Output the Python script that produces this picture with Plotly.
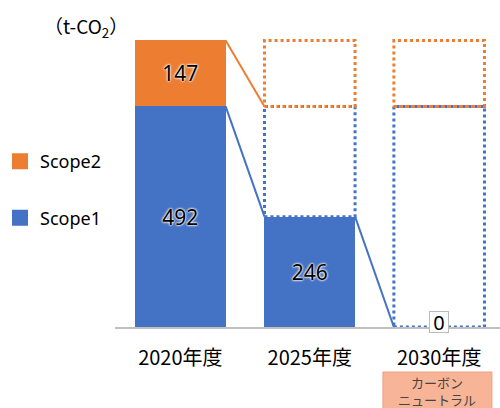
import plotly.graph_objects as go

categories = ["2020年度", "2025年度", "2030年度"]
scope1 = [492, 246, 0]
scope2 = [147, 0, 0]
target_note = "カーボン<br>ニュートラル"
unit_label = "（t-CO<sub>2</sub>）"

BLUE = "#4472C4"
ORANGE = "#ED7D31"
FONT = "Noto Sans CJK JP"
NUMFONT = "Noto Sans"
W = 0.7
h = W / 2
xs = list(range(len(categories)))

base1 = scope1[0]
base_total = scope1[0] + scope2[0]

fig = go.Figure()

shadow = "0 0 2px white, 0 0 2px white, 0 0 3px white, 0 0 1px #666"

fig.add_trace(go.Bar(
    x=xs, y=scope1, name="Scope1", width=W, marker=dict(color=BLUE, line=dict(width=0)),
    text=[str(v) if v > 0 else "" for v in scope1], textposition="inside",
    insidetextanchor="middle",
    textfont=dict(family=NUMFONT, size=21, color="black", shadow=shadow),
    showlegend=False, hoverinfo="skip"))
fig.add_trace(go.Bar(
    x=xs, y=scope2, name="Scope2", width=W, marker=dict(color=ORANGE, line=dict(width=0)),
    text=[str(v) if v > 0 else "" for v in scope2], textposition="inside",
    insidetextanchor="middle",
    textfont=dict(family=NUMFONT, size=21, color="black", shadow=shadow),
    showlegend=False, hoverinfo="skip"))

# legend entries (square swatches)
fig.add_trace(go.Scatter(x=[None], y=[None], mode="markers", name="Scope2", legendrank=1,
                         legendgroup="g2",
                         marker=dict(symbol="square", size=16, color=ORANGE)))
fig.add_trace(go.Scatter(x=[None], y=[None], mode="markers", name="Scope1", legendrank=2,
                         legendgroup="g1",
                         marker=dict(symbol="square", size=16, color=BLUE)))

def rect(xc, y0, y1):
    return ([xc - h, xc + h, xc + h, xc - h, xc - h], [y0, y0, y1, y1, y0])

# ghost (target) boxes
ghosts = [
    (1, scope1[1], base1, BLUE),
    (1, base1, base_total, ORANGE),
    (2, scope1[2], base1, BLUE),
    (2, base1, base_total, ORANGE),
]
for xc, y0, y1, col in ghosts:
    gx, gy = rect(xc, y0, y1)
    fig.add_trace(go.Scatter(x=gx, y=gy, mode="lines", showlegend=False, hoverinfo="skip",
                             line=dict(color=col, width=3, dash="dot")))

# connector lines
fig.add_trace(go.Scatter(x=[0 + h, 1 - h], y=[base_total, base1], mode="lines",
                         showlegend=False, hoverinfo="skip", line=dict(color=ORANGE, width=2)))
fig.add_trace(go.Scatter(x=[0 + h, 1 - h], y=[scope1[0], scope1[1]], mode="lines",
                         showlegend=False, hoverinfo="skip", line=dict(color=BLUE, width=2)))
fig.add_trace(go.Scatter(x=[1 + h, 2 - h], y=[scope1[1], scope1[2]], mode="lines",
                         showlegend=False, hoverinfo="skip", line=dict(color=BLUE, width=2)))

# zero label
fig.add_annotation(x=2, y=scope1[2], text=str(scope1[2]), showarrow=False, yshift=5,
                   xanchor="center", yanchor="middle", width=18, height=20,
                   font=dict(family=NUMFONT, size=20, color="black"),
                   bgcolor="white", bordercolor="#bbbbbb", borderwidth=1, borderpad=0)

# unit label
fig.add_annotation(xref="paper", yref="paper", x=(38 - 112) / 388, y=(327 - 27) / 317,
                   xanchor="left", yanchor="middle", text=unit_label,
                   showarrow=False, font=dict(family=FONT, size=19, color="black"))

# carbon neutral box
fig.add_shape(type="rect", xref="paper", yref="paper", x0=0.696, x1=0.979, y0=-0.27, y1=-0.142,
              fillcolor="#f7b497", line=dict(color="#ef9f7f", width=1), layer="above")
fig.add_annotation(xref="paper", yref="paper", x=0.8375, y=(327 - 391) / 317, text=target_note,
                   showarrow=False, align="center", xanchor="center", yanchor="middle",
                   font=dict(family=FONT, size=13, color="#444444"))

fig.update_layout(
    width=500, height=408,
    margin=dict(l=112, r=0, t=10, b=81),
    barmode="stack",
    plot_bgcolor="white", paper_bgcolor="white",
    showlegend=True,
    legend=dict(x=-0.3, xanchor="left", y=0.58, yanchor="top",
                traceorder="grouped", tracegroupgap=30,
                font=dict(family=NUMFONT, size=18, color="black"),
                bgcolor="rgba(0,0,0,0)", itemwidth=30),
    xaxis=dict(range=[-0.505, 2.47], tickvals=xs, ticktext=categories,
               showline=True, linecolor="#bfbfbf", linewidth=1.5, showgrid=False,
               zeroline=False, ticks="", ticklabelstandoff=12,
               tickfont=dict(family=FONT, size=20, color="black")),
    yaxis=dict(range=[0, 707], visible=False, showgrid=False, zeroline=False),
)

fig.write_html("out.html")
